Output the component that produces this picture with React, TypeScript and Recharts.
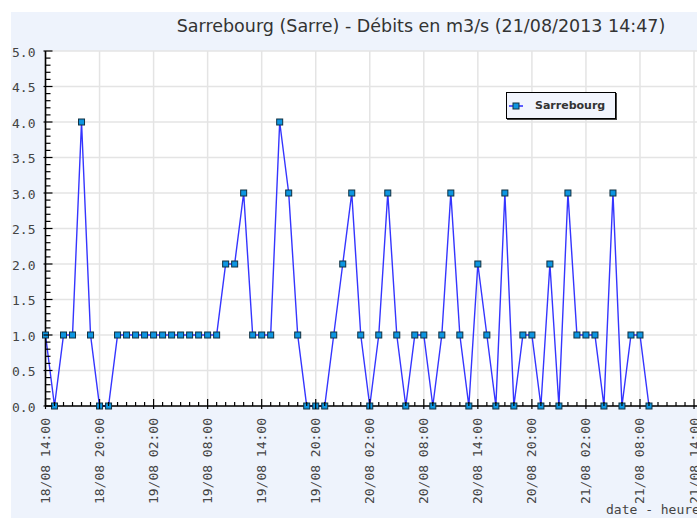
import React from 'react';
import { LineChart, Line, XAxis, YAxis, CartesianGrid, Legend } from 'recharts';

const chartTitle = 'Sarrebourg (Sarre) - Débits en m3/s (21/08/2013 14:47)';
const seriesName = 'Sarrebourg';
const xAxisTitle = 'date - heure';

// débits horaires (m3/s), de 18/08 14:00 à 21/08 09:00
const debits = [
  1, 0, 1, 1, 4, 1, 0, 0,
  1, 1, 1, 1, 1, 1, 1, 1, 1, 1, 1, 1,
  2, 2, 3, 1, 1, 1, 4, 3, 1, 0, 0, 0,
  1, 2, 3, 1, 0, 1, 3, 1, 0, 1, 1, 0,
  1, 3, 1, 0, 2, 1, 0, 3, 0, 1, 1, 0,
  2, 0, 3, 1, 1, 1, 0, 3, 0, 1, 1, 0,
];

const xTickLabels = [
  '18/08 14:00', '18/08 20:00', '19/08 02:00', '19/08 08:00', '19/08 14:00',
  '19/08 20:00', '20/08 02:00', '20/08 08:00', '20/08 14:00', '20/08 20:00',
  '21/08 02:00', '21/08 08:00', '21/08 14:00',
];
const yTickLabels = ['0.0', '0.5', '1.0', '1.5', '2.0', '2.5', '3.0', '3.5', '4.0', '4.5', '5.0'];

const data = debits.map((v, i) => ({ heure: i, debit: v }));

// one tick per hour / per 0.1, labels only on the major ones
const xTicks = Array.from({ length: 73 }, (_, i) => i);
const yTicks = Array.from({ length: 51 }, (_, i) => i / 10);
const xMajor = xTickLabels.map((_, i) => i * 6);
const yMajor = yTickLabels.map((_, i) => i / 2);

const bgBlue = '#eef3fc';
const gridColor = '#e4e4e4';
const textColor = '#444';
const mono = '"DejaVu Sans Mono", monospace';

const XTick = ({ x, y, payload }: any) => {
  const h = payload.value;
  const major = h % 6 === 0;
  return (
    <g>
      <line x1={x} x2={x} y1={major ? y - 7 : y - 4} y2={major ? y + 3 : y} stroke="#000" strokeWidth={1.2} />
      {major && (
        <text
          transform={`translate(${x},${y + 12}) rotate(-90)`}
          textAnchor="end"
          dominantBaseline="central"
          fontFamily={mono}
          fontSize={13}
          fill={textColor}
        >
          {xTickLabels[h / 6]}
        </text>
      )}
    </g>
  );
};

const YTick = ({ x, y, payload }: any) => {
  const tenth = Math.round(payload.value * 10);
  const major = tenth % 5 === 0;
  return (
    <g>
      <line x1={major ? x - 2 : x} x2={major ? x + 7 : x + 5} y1={y} y2={y} stroke="#000" strokeWidth={1.2} />
      {major && (
        <text x={x - 10} y={y + 1} textAnchor="end" dominantBaseline="central" fontFamily={mono} fontSize={13} fill={textColor}>
          {yTickLabels[tenth / 5]}
        </text>
      )}
    </g>
  );
};

const SquareDot = (props: any) => {
  const { cx, cy, index } = props;
  return <rect key={index} x={cx - 3} y={cy - 3} width={6} height={6} fill="#0d95e0" stroke="#123040" strokeWidth={1} />;
};

const LegendBox = () => (
  <div
    style={{
      width: 110,
      height: 27,
      boxSizing: 'border-box',
      border: '1px solid #000',
      boxShadow: '1px 1px 0 #444',
      background: '#f2f5fd',
      display: 'flex',
      alignItems: 'center',
      fontFamily: '"DejaVu Sans", sans-serif',
      fontWeight: 'bold',
      fontSize: 11,
      color: '#333',
    }}
  >
    <svg width={27} height={10} style={{ marginLeft: 1 }}>
      <line x1={1} x2={15} y1={5} y2={5} stroke="#2b2bff" strokeWidth={1.5} />
      <rect x={5} y={2} width={6} height={6} fill="#0d95e0" stroke="#123040" strokeWidth={1} />
    </svg>
    <span>{seriesName}</span>
  </div>
);

export default function App() {
  return (
    <div style={{ position: 'absolute', left: 0, top: 0, width: 697, height: 518, background: '#fff', overflow: 'hidden' }}>
      <div style={{ position: 'absolute', left: 11, top: 12, right: 0, bottom: 0, background: bgBlue }} />
      <div
        style={{
          position: 'absolute',
          left: 0,
          top: 16,
          width: 842,
          textAlign: 'center',
          fontFamily: '"DejaVu Sans", sans-serif',
          fontSize: 17.5,
          color: '#333',
          whiteSpace: 'nowrap',
        }}
      >
        {chartTitle}
      </div>
      <div style={{ position: 'absolute', left: 0, top: 0 }}>
        <LineChart width={697} height={518} data={data} margin={{ top: 51, right: 0, bottom: 0, left: 0 }}>
          <CartesianGrid
            fill="#fff"
            stroke={gridColor}
            strokeWidth={1.5}
            horizontalValues={yMajor}
            verticalValues={xMajor}
          />
          <XAxis
            dataKey="heure"
            type="number"
            domain={[0, 72.33]}
            ticks={xTicks}
            interval={0}
            height={112}
            tickSize={0}
            tickMargin={0}
            tickLine={false}
            axisLine={{ stroke: '#000', strokeWidth: 1.6 }}
            tick={<XTick />}
          />
          <YAxis
            type="number"
            domain={[0, 5]}
            ticks={yTicks}
            interval={0}
            width={45.5}
            tickSize={0}
            tickMargin={0}
            tickLine={false}
            axisLine={{ stroke: '#000', strokeWidth: 1.6 }}
            tick={<YTick />}
          />
          <Legend
            layout="vertical"
            align="center"
            verticalAlign="middle"
            wrapperStyle={{ left: 506, top: 92, width: 'auto' }}
            content={<LegendBox />}
          />
          <Line
            type="linear"
            dataKey="debit"
            name={seriesName}
            stroke="#3535ff"
            strokeWidth={1.4}
            dot={<SquareDot />}
            activeDot={false}
            isAnimationActive={false}
          />
        </LineChart>
      </div>
      <div
        style={{
          position: 'absolute',
          left: 606,
          top: 502,
          fontFamily: mono,
          fontSize: 13,
          color: textColor,
          whiteSpace: 'nowrap',
        }}
      >
        {xAxisTitle}
      </div>
    </div>
  );
}
